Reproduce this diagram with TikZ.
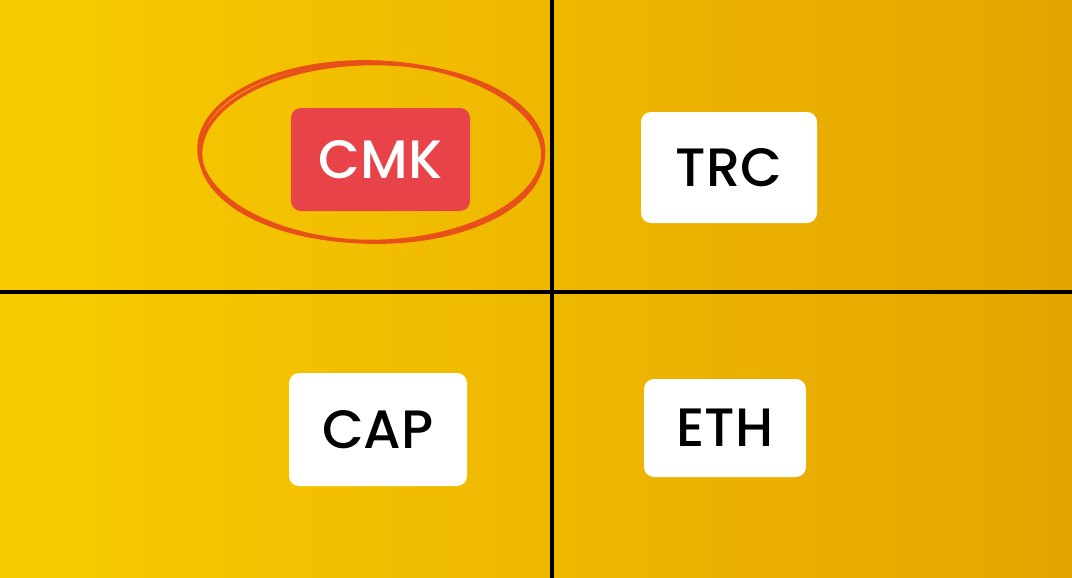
\documentclass[tikz,border=0pt]{standalone}
\usepackage{fontspec}
\setmainfont{Poppins}
\newfontfamily\tagfont{Poppins Medium}
\usepackage{tikz}
\usetikzlibrary{shapes}
\usetikzlibrary{backgrounds}
\definecolor{bgleft}{HTML}{F8CC00}
\definecolor{bgright}{HTML}{E5A400}
\definecolor{tagred}{HTML}{E84349}
\definecolor{ringred}{HTML}{E8501A}
\tikzstyle{tag}=[rectangle,rounded corners=5pt,fill=white,text=black,inner sep=0mm,font=\tagfont\fontsize{27}{34}\selectfont]
\tikzstyle{picked}=[tag,fill=tagred,text=white]
\tikzstyle{divider}=[line width=2pt,draw=black]
\tikzstyle{ring}=[line width=1.8pt,draw=ringred]
\tikzset{every picture/.style={
    x=0.5pt,y=-0.5pt
  }
}

\begin{document}
\begin{tikzpicture}
      \useasboundingbox (0,0) rectangle (1072,578);
      \shade[left color=bgleft,right color=bgright] (0,0) rectangle (1072,578);
      \coordinate (top) at (552,0);
      \coordinate (bottom) at (552,578);
      \coordinate (left) at (0,292);
      \coordinate (right) at (1072,292);
      \draw[divider] (top) -- (bottom);
      \draw[divider] (left) -- (right);
      \node[picked,minimum width=89.5pt,minimum height=51.5pt] at (380.5,159.5) (cmk) {CMK};
      \node[tag,minimum width=88pt,minimum height=55.5pt] at (729,167.5) (trc) {TRC};
      \node[tag,minimum width=89pt,minimum height=56.5pt] at (378,429.5) (cap) {CAP};
      \node[tag,minimum width=81pt,minimum height=49pt] at (725,428) (eth) {ETH};
      \draw[ring,rotate around={-1.5:(371,152)}] (371,152) ellipse [x radius=172,y radius=90];
      \draw[ring,rotate around={0.5:(372,152)}] (372,152.5) ellipse [x radius=171.5,y radius=89];
    \end{tikzpicture}
\end{document}
